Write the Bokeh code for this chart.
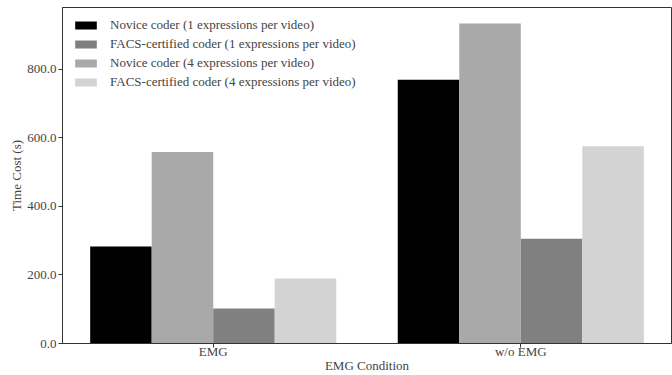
import numpy as np
from bokeh.plotting import figure
from bokeh.models import FixedTicker, NumeralTickFormatter, Range1d, Legend, LegendItem, ColumnDataSource
from bokeh.embed import file_html
from bokeh.resources import INLINE

groups = ["EMG", "w/o EMG"]
series_names = [
    "Novice coder (1 expressions per video)",
    "Novice coder (4 expressions per video)",
    "FACS-certified coder (1 expressions per video)",
    "FACS-certified coder (4 expressions per video)",
]
novice_1 = [283, 770]
novice_4 = [559, 934]
facs_1 = [102, 306]
facs_4 = [190, 576]
series_values = [novice_1, novice_4, facs_1, facs_4]
colors = ["#000000", "#a9a9a9", "#808080", "#d3d3d3"]
legend_order = [0, 2, 1, 3]
y_ticks = [0, 200, 400, 600, 800]

FONT = "Liberation Serif"
FS = "13px"
bar_w = 0.2
offsets = [-0.3, -0.1, 0.1, 0.3]

p = figure(width=672, height=375, output_backend="svg", toolbar_location=None, title=None,
           x_range=Range1d(-0.49, 1.49), y_range=Range1d(0, 981),
           min_border_left=62, min_border_right=1, min_border_top=7, min_border_bottom=0)

renderers = []
xs = np.arange(len(groups))
for i, vals in enumerate(series_values):
    src = ColumnDataSource(dict(x=xs + offsets[i], top=vals))
    r = p.vbar(x="x", top="top", width=bar_w, bottom=0, source=src,
               fill_color=colors[i], line_color=None)
    renderers.append(r)

items = [LegendItem(label=series_names[i], renderers=[renderers[i]]) for i in legend_order]
legend = Legend(items=items, location="top_left", margin=10, padding=5,
                glyph_width=27, glyph_height=10, label_height=14, spacing=3,
                label_standoff=11, label_text_font=FONT, label_text_font_size=FS,
                border_line_color=None, background_fill_alpha=0)
p.add_layout(legend, "center")

p.grid.visible = False
p.outline_line_color = "#333333"
p.outline_line_width = 1

p.xaxis.ticker = FixedTicker(ticks=list(range(len(groups))))
p.xaxis.major_label_overrides = {i: g for i, g in enumerate(groups)}
p.yaxis.ticker = FixedTicker(ticks=y_ticks)
p.yaxis.formatter = NumeralTickFormatter(format="0.0")

for ax in (p.xaxis, p.yaxis):
    ax.major_label_text_font = FONT
    ax.major_label_text_font_size = FS
    ax.axis_label_text_font = FONT
    ax.axis_label_text_font_size = FS
    ax.axis_label_text_font_style = "normal"
    ax.minor_tick_line_color = None
    ax.major_tick_in = 0
    ax.major_tick_out = 4
    ax.major_label_standoff = 2
    ax.axis_label_standoff = 0
    ax.axis_line_color = "#333333"
    ax.major_tick_line_color = "#333333"

p.xaxis.axis_label = "EMG Condition"
p.yaxis.axis_label = "Time Cost (s)"
p.xaxis.major_label_standoff = -4
p.xaxis.axis_label_standoff = -4

open("out.html", "w").write(file_html(p, INLINE))
